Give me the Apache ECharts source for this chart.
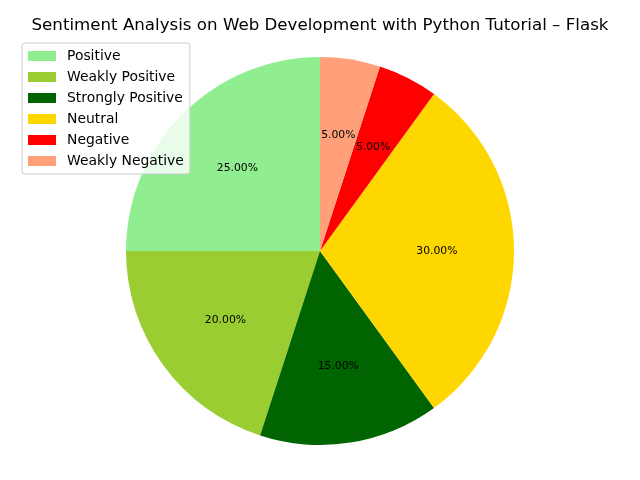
<!DOCTYPE html>
<html><head><meta charset="utf-8">
<script src="https://cdn.jsdelivr.net/npm/echarts@6/dist/echarts.min.js"></script>
<style>html,body{margin:0;padding:0;background:#fff}#c{width:640px;height:480px}</style>
</head><body><div id="c"></div>
<script>
const categories = ['Positive','Weakly Positive','Strongly Positive','Neutral','Negative','Weakly Negative'];
const values = [25, 20, 15, 30, 5, 5];
const colors = ['#90EE90','#9ACD32','#006400','#FFD700','#FF0000','#FFA07A'];
const titleText = 'Sentiment Analysis on Web Development with Python Tutorial \u2013 Flask';

const data = categories.map((n,i)=>({name:n, value:values[i], itemStyle:{color:colors[i]}}));
const total = values.reduce((a,b)=>a+b,0);
const chart = echarts.init(document.getElementById('c'), null, {renderer:'canvas'});
const R = 194;
chart.setOption({
  animation:false,
  title:{text:titleText, left:'center', top:12, textStyle:{fontFamily:'DejaVu Sans', fontSize:16.67, fontWeight:'normal', color:'#000'}},
  legend:{
    orient:'vertical', left:22, top:43, data:categories,
    itemWidth:28, itemHeight:10, itemGap:7, icon:'rect',
    padding:[6,6,6,6],
    backgroundColor:'rgba(255,255,255,0.8)', borderColor:'#cccccc', borderWidth:1, borderRadius:3,
    textStyle:{fontFamily:'DejaVu Sans', fontSize:13.9, color:'#000', lineHeight:14, padding:[0,0,0,6]},
    z:10
  },
  series:[
    {type:'pie', center:[320,251], radius:[0,R], startAngle:90, clockwise:false,
     avoidLabelOverlap:false, label:{show:false}, labelLine:{show:false},
     itemStyle:{borderWidth:0}, emphasis:{disabled:true}, data:data, z:1},
    {type:'pie', center:[320,251], radius:[0.174*R,R], startAngle:90, clockwise:false, silent:true,
     avoidLabelOverlap:false, labelLine:{show:false},
     itemStyle:{color:'rgba(0,0,0,0)', borderWidth:0},
     label:{show:true, position:'inside', rotate:0, color:'#000', fontFamily:'DejaVu Sans', fontSize:10.8,
       formatter:p=>(p.value/total*100).toFixed(2)+'%'},
     data:categories.map((n,i)=>({name:n, value:values[i]})), z:2}
  ]
});
</script></body></html>
